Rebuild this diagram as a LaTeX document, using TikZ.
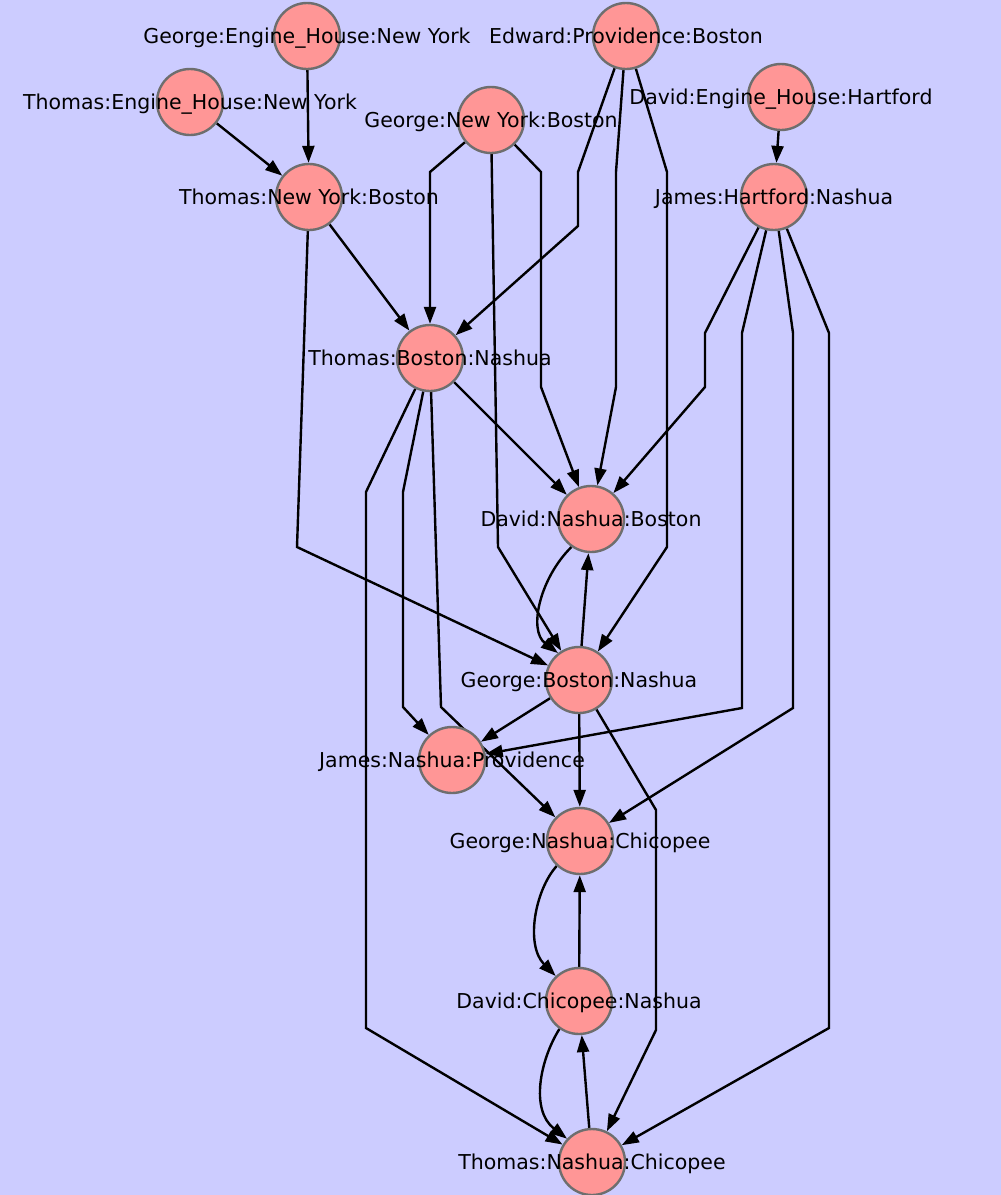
\documentclass[tikz,border=0pt]{standalone}
\usepackage{fontspec}
\setmainfont{DejaVu Sans}
\usetikzlibrary{arrows.meta,backgrounds}
\definecolor{bgc}{HTML}{CCCCFF}
\definecolor{ndfill}{HTML}{FF9696}
\definecolor{ndline}{HTML}{6E6E6E}
\begin{document}
\begin{tikzpicture}[x=1pt,y=-1pt,
  nd/.style={circle, draw=ndline, fill=ndfill, line width=2.4pt, minimum size=66pt, inner sep=0pt},
  lbl/.style={inner sep=0pt, font=\fontsize{20.5}{24}\selectfont, text height=15pt, text depth=0pt, anchor=center},
  ed/.style={line width=2.4pt, -{Triangle[length=17pt,width=12pt]}, line join=miter}]
\useasboundingbox (0,0) rectangle (1001,1195);
% nodes
\node[nd] (geh) at (307,36) {};
\node[nd] (teh) at (190,102) {};
\node[nd] (tnb) at (309,197) {};
\node[nd] (gnb) at (491,120) {};
\node[nd] (epb) at (626,36) {};
\node[nd] (deh) at (781,97) {};
\node[nd] (jhn) at (774,197) {};
\node[nd] (tbn) at (430,358) {};
\node[nd] (dnb) at (591,519) {};
\node[nd] (gbn) at (579,680) {};
\node[nd] (jnp) at (452,760) {};
\node[nd] (gnc) at (580,841) {};
\node[nd] (dcn) at (579,1001) {};
\node[nd] (tnc) at (592,1162) {};
% labels
\node[lbl] (geh-l) at (geh) {George:Engine\_House:New York};
\node[lbl] (teh-l) at (teh) {Thomas:Engine\_House:New York};
\node[lbl] (tnb-l) at (tnb) {Thomas:New York:Boston};
\node[lbl] (gnb-l) at (gnb) {George:New York:Boston};
\node[lbl] (epb-l) at (epb) {Edward:Providence:Boston};
\node[lbl] (deh-l) at (deh) {David:Engine\_House:Hartford};
\node[lbl] (jhn-l) at (jhn) {James:Hartford:Nashua};
\node[lbl] (tbn-l) at (tbn) {Thomas:Boston:Nashua};
\node[lbl] (dnb-l) at (dnb) {David:Nashua:Boston};
\node[lbl] (gbn-l) at (gbn) {George:Boston:Nashua};
\node[lbl] (jnp-l) at (jnp) {James:Nashua:Providence};
\node[lbl] (gnc-l) at (gnc) {George:Nashua:Chicopee};
\node[lbl] (dcn-l) at (dcn) {David:Chicopee:Nashua};
\node[lbl] (tnc-l) at (tnc) {Thomas:Nashua:Chicopee};
\begin{pgfonlayer}{background}
\fill[bgc] (0,0) rectangle (1001,1195);
\draw[ed] (teh) -- (tnb);
\draw[ed] (geh) -- (tnb);
\draw[ed] (gnb) -- (430,172) -- (tbn);
\draw[ed] (gnb) -- (541,172) -- (541,387) -- (dnb);
\draw[ed] (gnb) -- (498,547) -- (gbn);
\draw[ed] (epb) -- (578,172) -- (578,226) -- (tbn);
\draw[ed] (epb) -- (616,172) -- (616,387) -- (dnb);
\draw[ed] (epb) -- (667,172) -- (667,547) -- (gbn);
\draw[ed] (deh) -- (jhn);
\draw[ed] (tnb) -- (tbn);
\draw[ed] (tnb) -- (297,547) -- (gbn);
\draw[ed] (jhn) -- (705,333) -- (705,387) -- (dnb);
\draw[ed] (jhn) -- (742,333) -- (742,708) -- (jnp);
\draw[ed] (jhn) -- (793,333) -- (793,708) -- (gnc);
\draw[ed] (jhn) -- (829,333) -- (829,1028) -- (tnc);
\draw[ed] (tbn) -- (366,492) -- (366,1028) -- (tnc);
\draw[ed] (tbn) -- (403,492) -- (403,707) -- (jnp);
\draw[ed] (tbn) -- (441,707) -- (gnc);
\draw[ed] (tbn) -- (dnb);
\draw[ed] (dnb.235) .. controls (540,578) and (528,630) .. (gbn.128);
\draw[ed] (gbn) -- (dnb);
\draw[ed] (gbn) -- (jnp);
\draw[ed] (gbn) -- (gnc);
\draw[ed] (gbn) -- (656,810) -- (656,1030) -- (tnc);
\draw[ed] (gnc.227) .. controls (535,890) and (525,945) .. (dcn.133);
\draw[ed] (dcn) -- (gnc);
\draw[ed] (dcn.235) .. controls (540,1060) and (530,1110) .. (tnc.137);
\draw[ed] (tnc) -- (dcn);
\end{pgfonlayer}
\end{tikzpicture}
\end{document}
